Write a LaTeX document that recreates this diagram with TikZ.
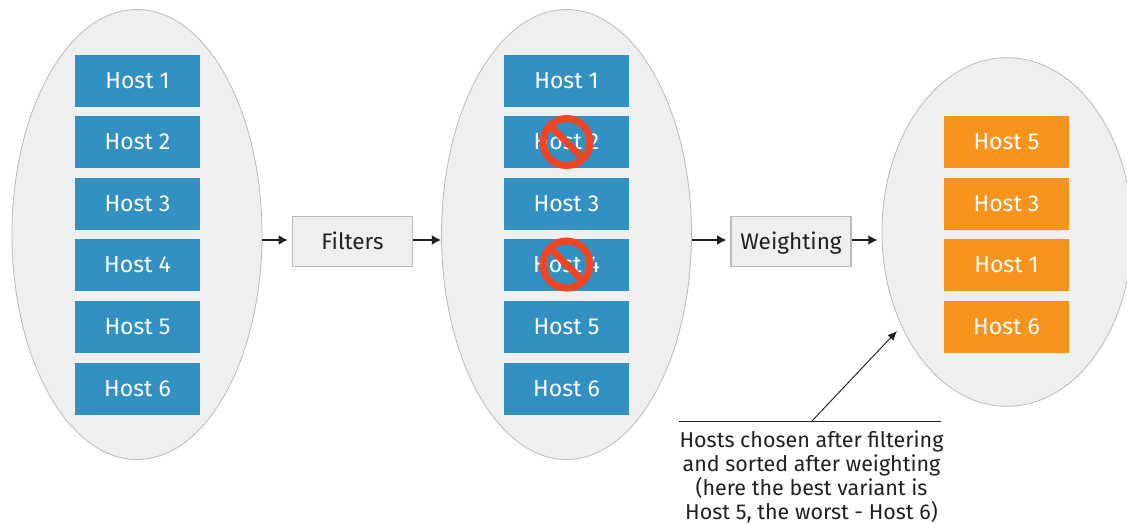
\documentclass[tikz,border=0pt]{standalone}
\usepackage{fontspec}
\setmainfont{Fira Sans}
\usepackage{tikz}
\usetikzlibrary{arrows.meta,shapes.geometric}

\definecolor{hostblue}{HTML}{3290C3}
\definecolor{hostorange}{HTML}{F7941E}
\definecolor{groupgrey}{HTML}{EFEFEF}
\definecolor{groupline}{HTML}{BBBBBB}
\definecolor{banred}{HTML}{F04423}
\definecolor{inkdark}{HTML}{231F20}

\tikzset{
        hostgroup/.style={ellipse, draw=groupline, fill=groupgrey, line width=0.6pt, inner sep=0pt},
        hostbox/.style={rectangle, fill=hostblue, text=white, font={\fontsize{17.3}{20}\selectfont}, text height=14pt, text depth=3pt, minimum width=93.75pt, minimum height=39pt, inner sep=0pt},
        chosenbox/.style={hostbox, fill=hostorange},
        stagebox/.style={rectangle, draw=groupline, fill=groupgrey, text=inkdark, line width=0.8pt, font={\fontsize{16.9}{20}\selectfont}, text height=14pt, text depth=2.3pt, minimum width=90pt, minimum height=37.5pt, inner sep=0pt},
        bansign/.style={circle, draw=banred, line width=5.25pt, minimum size=35.25pt, inner sep=0pt, outer sep=0pt},
        banslash/.style={banred, line width=5.25pt},
        flow/.style={-{Latex[length=7pt,width=7.5pt]}, inkdark, line width=1.5pt},
}

\begin{document}
\begin{tikzpicture}[x=0.75pt,y=-0.75pt]
        \useasboundingbox (0,0) rectangle (1127,524);

        \node[hostgroup, minimum width=187.5pt, minimum height=337.5pt] (leftgroup) at (137,234.5) {};
        \node[hostgroup, minimum width=187.5pt, minimum height=337.5pt] (middlegroup) at (566.5,234.5) {};
        \node[hostgroup, minimum width=187.5pt, minimum height=261.5pt] (rightgroup) at (1007,232) {};

        \node[hostbox] (lefthostA) at (137.5,81) {Host 1};
        \node[hostbox] (lefthostB) at (137.5,142) {Host 2};
        \node[hostbox] (lefthostC) at (137.5,204) {Host 3};
        \node[hostbox] (lefthostD) at (137.5,265) {Host 4};
        \node[hostbox] (lefthostE) at (137.5,327) {Host 5};
        \node[hostbox] (lefthostF) at (137.5,389) {Host 6};

        \node[hostbox] (midhostA) at (566.5,81) {Host 1};
        \node[hostbox] (midhostB) at (566.5,142) {Host 2};
        \node[hostbox] (midhostC) at (566.5,204) {Host 3};
        \node[hostbox] (midhostD) at (566.5,265) {Host 4};
        \node[hostbox] (midhostE) at (566.5,327) {Host 5};
        \node[hostbox] (midhostF) at (566.5,389) {Host 6};

        \node[chosenbox] (chosenA) at (1006.5,142) {Host 5};
        \node[chosenbox] (chosenB) at (1006.5,204) {Host 3};
        \node[chosenbox] (chosenC) at (1006.5,265) {Host 1};
        \node[chosenbox] (chosenD) at (1006.5,327) {Host 6};

        \node[bansign] (banB) at (566.5,142) {};
        \draw[banslash] (banB.north west) -- (banB.south east);
        \node[bansign] (banD) at (566.5,264.5) {};
        \draw[banslash] (banD.north west) -- (banD.south east);

        \node[stagebox] (filters) at (352.5,241.5) {Filters};
        \node[stagebox] (weighting) at (791,241.5) {Weighting};

        \coordinate (flowline) at (0,240);
        \draw[flow, shorten >=3pt] (leftgroup.east |- flowline) -- (filters.west |- flowline);
        \draw[flow] (filters.east |- flowline) -- (middlegroup.west |- flowline);
        \draw[flow, shorten >=3pt] (middlegroup.east |- flowline) -- (weighting.west |- flowline);
        \draw[flow, shorten >=3pt] (weighting.east |- flowline) -- (rightgroup.west |- flowline);

        \node[font = {\fontsize{16.1}{18.1}\selectfont}, text=inkdark, align=center, anchor=north, inner sep=0pt] (note) at (811.5,430.5) {Hosts chosen after filtering\\and sorted after weighting\\(here the best variant is\\Host 5, the worst - Host 6)};

        \coordinate (ruleleft) at (679,421);
        \coordinate (ruleright) at (941,421);
        \coordinate (rulemid) at (812,421);
        \coordinate (notetip) at (897,331);
        \draw[inkdark, line width=0.7pt] (ruleleft) -- (ruleright);
        \draw[-{Latex[length=7pt,width=6pt]}, inkdark, line width=0.7pt] (rulemid) -- (notetip);
    \end{tikzpicture}
\end{document}
